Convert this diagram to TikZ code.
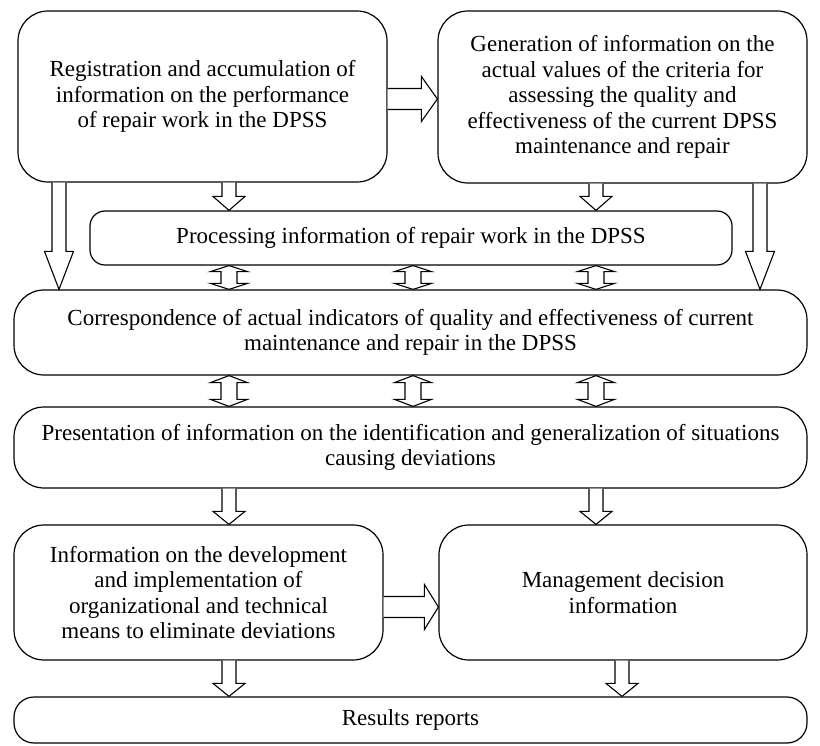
\documentclass[tikz,border=0pt]{standalone}
\usepackage{fontspec}
\setmainfont{Liberation Serif}
\usetikzlibrary{calc}
\tikzset{
  box/.style={draw, line width=1.2pt, rounded corners=30pt, align=center, inner sep=0pt,
    font=\fontsize{23}{25.5}\selectfont},
  blk/.style={draw, line width=1.1pt, fill=white, line join=miter},
}
\newcommand{\blockdown}[5]{%
 \draw[blk] let \p1=(#1), \p2=(#2) in (\x1-#3,\y1) -- (\x1-#3,\y2+#5) -- (\x1-#4,\y2+#5) -- (\x1,\y2) -- (\x1+#4,\y2+#5) -- (\x1+#3,\y2+#5) -- (\x1+#3,\y1);}
\newcommand{\blockdouble}[5]{%
 \draw[blk] let \p1=(#1), \p2=(#2) in (\x1,\y1) -- (\x1+#4,\y1-#5) -- (\x1+#3,\y1-#5) -- (\x1+#3,\y2+#5) -- (\x1+#4,\y2+#5) -- (\x1,\y2) -- (\x1-#4,\y2+#5) -- (\x1-#3,\y2+#5) -- (\x1-#3,\y1-#5) -- (\x1-#4,\y1-#5) -- cycle;}
\newcommand{\blockright}[5]{%
 \draw[blk] let \p1=(#1), \p2=(#2) in (\x1,\y1+#3) -- (\x2-#5,\y1+#3) -- (\x2-#5,\y1+#4) -- (\x2,\y1) -- (\x2-#5,\y1-#4) -- (\x2-#5,\y1-#3) -- (\x1,\y1-#3);}
\begin{document}
\begin{tikzpicture}[x=1pt,y=-1pt]
\useasboundingbox (0,0) rectangle (820,746);
\node[box, minimum width=369pt, minimum height=171pt] (b1) at (202.5,96.5)
  {Registration and accumulation of\\information on the performance\\of repair work in the DPSS};
\node[box, minimum width=369pt, minimum height=172pt] (b2) at (622.5,97)
  {Generation of information on the\\actual values of the criteria for\\assessing the quality and\\effectiveness of the current DPSS\\maintenance and repair};
\node[box, rounded corners=15pt, minimum width=642pt, minimum height=54pt] (b3) at (411,238)
  {Processing information of repair work in the DPSS};
\node[box, minimum width=793pt, minimum height=85pt] (b4) at (410.5,332.5)
  {Correspondence of actual indicators of quality and effectiveness of current\\maintenance and repair in the DPSS};
\node[box, minimum width=793pt, minimum height=81pt] (b5) at (410.5,447.5)
  {Presentation of information on the identification and generalization of situations\\causing deviations};
\node[box, minimum width=369pt, minimum height=135pt] (b6) at (198.5,592.5)
  {Information on the development\\and implementation of\\organizational and technical\\means to eliminate deviations};
\node[box, minimum width=368pt, minimum height=135pt] (b7) at (623,592.5)
  {Management decision\\information};
\node[box, rounded corners=20pt, minimum width=793pt, minimum height=46pt] (b8) at (410.5,720)
  {Results reports};
% reference coordinates for arrow axes
\coordinate (xa) at (229,0);
\coordinate (xb) at (413,0);
\coordinate (xc) at (596,0);
\coordinate (xd) at (622,0);
\coordinate (xl) at (59,0);
\coordinate (xr) at (760,0);
\coordinate (ya) at (0,99);
\coordinate (yb) at (0,607);
% arrows
\blockright{b1.east|-ya}{b2.west|-ya}{10.5pt}{22.5pt}{16pt}
\blockdown{xa|-b1.south}{xa|-b3.north}{7pt}{16pt}{14pt}
\blockdown{xc|-b2.south}{xc|-b3.north}{7pt}{16pt}{14pt}
\blockdown{xl|-b1.south}{xl|-b4.north}{7pt}{14.5pt}{38pt}
\blockdown{xr|-b2.south}{xr|-b4.north}{7pt}{14.5pt}{38pt}
\blockdouble{xa|-b3.south}{xa|-b4.north}{8pt}{18.5pt}{6pt}
\blockdouble{xb|-b3.south}{xb|-b4.north}{8pt}{18.5pt}{6pt}
\blockdouble{xc|-b3.south}{xc|-b4.north}{8pt}{18.5pt}{6pt}
\blockdouble{xa|-b4.south}{xa|-b5.north}{8pt}{18.5pt}{7pt}
\blockdouble{xb|-b4.south}{xb|-b5.north}{8pt}{18.5pt}{7pt}
\blockdouble{xc|-b4.south}{xc|-b5.north}{8pt}{18.5pt}{7pt}
\blockdown{xa|-b5.south}{xa|-b6.north}{7pt}{16pt}{13pt}
\blockdown{xc|-b5.south}{xc|-b7.north}{7pt}{16pt}{13pt}
\blockright{b6.east|-yb}{b7.west|-yb}{10.5pt}{22.5pt}{14pt}
\blockdown{xa|-b6.south}{xa|-b8.north}{7pt}{16pt}{13pt}
\blockdown{xd|-b7.south}{xd|-b8.north}{7pt}{16pt}{13pt}
\end{tikzpicture}
\end{document}
